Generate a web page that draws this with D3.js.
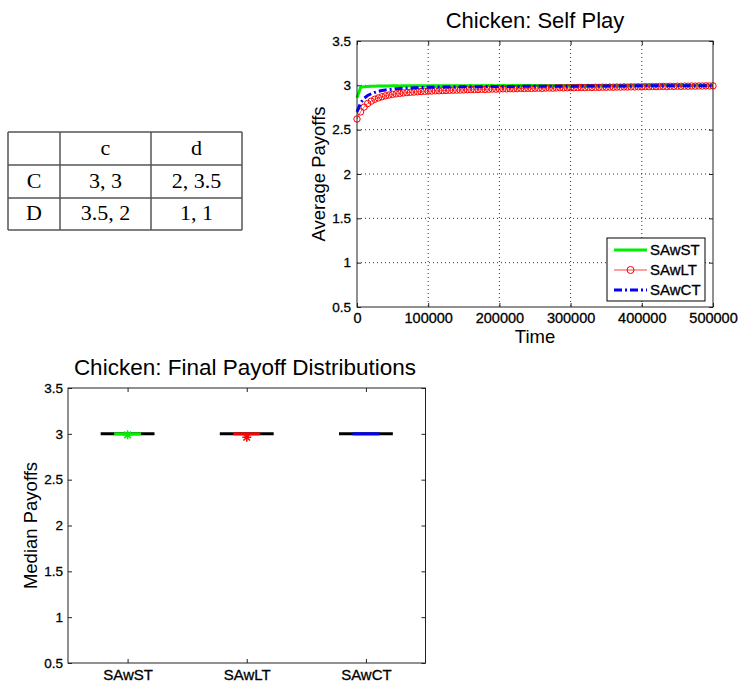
<!DOCTYPE html>
<html>
<head>
<meta charset="utf-8">
<script src="https://cdn.jsdelivr.net/npm/d3@7"></script>
<style>
  body { margin: 0; background: #fff; }
  svg { display: block; font-family: "Liberation Sans", Arial, sans-serif; }
</style>
</head>
<body>
<svg id="fig" width="741" height="686"></svg>
<script>
// payoff table
const tableHead = ["", "c", "d"];
const tableRows = [["C", "3, 3", "2, 3.5"], ["D", "3.5, 2", "1, 1"]];

// self play curves (sampled every 5000 steps)
const time = d3.range(0, 500001, 5000);
const seriesNames = ["SAwST", "SAwLT", "SAwCT"];
const sawst = [
  2.86, 2.975, 2.985, 2.988, 2.99, 2.991, 2.992, 2.992, 2.993, 2.993,
  2.994, 2.994, 2.993, 2.994, 2.995, 2.994, 2.995, 2.995, 2.994, 2.995,
  2.995, 2.996, 2.995, 2.995, 2.996, 2.995, 2.996, 2.996, 2.995, 2.996,
  2.996, 2.996, 2.997, 2.996, 2.996, 2.997, 2.996, 2.997, 2.997, 2.996,
  2.997, 2.997, 2.996, 2.997, 2.997, 2.997, 2.998, 2.997, 2.997, 2.998,
  2.997, 2.998, 2.997, 2.998, 2.998, 2.997, 2.998, 2.998, 2.997, 2.998,
  2.998, 2.998, 2.999, 2.998, 2.998, 2.998, 2.999, 2.998, 2.998, 2.999,
  2.998, 2.999, 2.998, 2.999, 2.999, 2.998, 2.999, 2.999, 2.998, 2.999,
  2.999, 2.999, 2.998, 2.999, 2.999, 2.999, 3.0, 2.999, 2.999, 2.999,
  3.0, 2.999, 2.999, 3.0, 2.999, 2.999, 3.0, 2.999, 3.0, 2.999,
  2.999
];
const sawlt = [
  2.62, 2.70, 2.755, 2.795, 2.822, 2.843, 2.858, 2.871, 2.882, 2.891,
  2.898, 2.904, 2.909, 2.914, 2.918, 2.921, 2.924, 2.927, 2.930, 2.932,
  2.934, 2.936, 2.938, 2.939, 2.941, 2.942, 2.944, 2.945, 2.946, 2.947,
  2.948, 2.950, 2.951, 2.952, 2.953, 2.955, 2.954, 2.956, 2.958, 2.957,
  2.959, 2.961, 2.960, 2.962, 2.961, 2.963, 2.965, 2.964, 2.966, 2.965,
  2.967, 2.968, 2.966, 2.969, 2.970, 2.968, 2.971, 2.973, 2.971, 2.972,
  2.974, 2.973, 2.975, 2.976, 2.974, 2.977, 2.976, 2.978, 2.977, 2.979,
  2.978, 2.980, 2.979, 2.981, 2.980, 2.982, 2.981, 2.983, 2.982, 2.984,
  2.983, 2.985, 2.984, 2.986, 2.985, 2.987, 2.988, 2.986, 2.989, 2.988,
  2.990, 2.989, 2.991, 2.990, 2.992, 2.991, 2.993, 2.992, 2.994, 2.993,
  2.994
];
const sawct = [
  2.70, 2.80, 2.855, 2.885, 2.905, 2.92, 2.932, 2.941, 2.948, 2.953,
  2.958, 2.962, 2.965, 2.967, 2.969, 2.971, 2.973, 2.974, 2.976, 2.977,
  2.978, 2.979, 2.979, 2.98, 2.981, 2.981, 2.982, 2.982, 2.983, 2.983,
  2.984, 2.984, 2.984, 2.985, 2.985, 2.985, 2.986, 2.986, 2.986, 2.987,
  2.987, 2.987, 2.987, 2.988, 2.988, 2.988, 2.988, 2.989, 2.989, 2.989,
  2.989, 2.989, 2.99, 2.99, 2.99, 2.99, 2.99, 2.991, 2.991, 2.991,
  2.991, 2.991, 2.991, 2.992, 2.992, 2.992, 2.992, 2.992, 2.992, 2.992,
  2.993, 2.993, 2.993, 2.993, 2.993, 2.993, 2.993, 2.993, 2.994, 2.994,
  2.994, 2.994, 2.994, 2.994, 2.994, 2.994, 2.994, 2.995, 2.995, 2.995,
  2.995, 2.995, 2.995, 2.995, 2.995, 2.995, 2.995, 2.996, 2.996, 2.996,
  2.996
];
const xTicks = [0, 100000, 200000, 300000, 400000, 500000];
const yTicks = [0.5, 1, 1.5, 2, 2.5, 3, 3.5];

// final payoff distributions (box stats all collapse to 3)
const boxNames = ["SAwST", "SAwLT", "SAwCT"];
const boxMedian = [3, 3, 3];
const boxOutliers = [[2.989], [2.963], []];

const colors = ["#00ee00", "#ff0000", "#0000ff"];
const svg = d3.select("#fig");

// ---------- table ----------
const colEdges = [8, 60, 151, 242];
const rowEdges = [132, 165, 198, 230];
const tbl = svg.append("g").attr("font-family", "'Liberation Serif', 'DejaVu Serif', serif").attr("font-size", 22);
const allRows = [tableHead].concat(tableRows);
allRows.forEach(function (row, r) {
  row.forEach(function (cell, c) {
    tbl.append("text")
      .attr("x", (colEdges[c] + colEdges[c + 1]) / 2)
      .attr("y", rowEdges[r + 1] - 10)
      .attr("text-anchor", "middle")
      .text(cell);
  });
});
rowEdges.forEach(function (y) {
  tbl.append("line").attr("x1", colEdges[0]).attr("x2", colEdges[3])
    .attr("y1", y).attr("y2", y).attr("stroke", "#555").attr("stroke-width", 1.5);
});
colEdges.forEach(function (x) {
  tbl.append("line").attr("x1", x).attr("x2", x)
    .attr("y1", rowEdges[0]).attr("y2", rowEdges[3]).attr("stroke", "#555").attr("stroke-width", 1.5);
});

// ---------- self play ----------
const p1 = {left: 357, right: 713, top: 41, bottom: 307};
const x1 = d3.scaleLinear().domain([0, 500000]).range([p1.left, p1.right]);
const y1 = d3.scaleLinear().domain([0.5, 3.5]).range([p1.bottom, p1.top]);
const g1 = svg.append("g");

// grid
g1.selectAll(".gx").data(xTicks.slice(1, -1)).enter().append("line")
  .attr("x1", d => x1(d)).attr("x2", d => x1(d)).attr("y1", p1.top).attr("y2", p1.bottom)
  .attr("stroke", "#333").attr("stroke-width", 1).attr("stroke-dasharray", "1,3");
g1.selectAll(".gy").data(yTicks.slice(1, -1)).enter().append("line")
  .attr("x1", p1.left).attr("x2", p1.right).attr("y1", d => y1(d)).attr("y2", d => y1(d))
  .attr("stroke", "#333").attr("stroke-width", 1).attr("stroke-dasharray", "1,3");

function styleAxis(sel, fs) {
  sel.select(".domain").remove();
  sel.selectAll(".tick line").attr("stroke", "#222");
  sel.selectAll(".tick text").attr("font-size", fs).attr("fill", "#000")
    .attr("stroke", "#000").attr("stroke-width", 0.3)
    .attr("font-family", "'Liberation Sans', Arial, sans-serif");
}

g1.append("g").attr("transform", `translate(0,${p1.bottom})`)
  .call(d3.axisBottom(x1).tickValues(xTicks).tickFormat(d3.format("d")).tickSizeInner(-4).tickSizeOuter(0).tickPadding(6))
  .call(s => styleAxis(s, 14.5));
g1.append("g").attr("transform", `translate(0,${p1.top})`)
  .call(d3.axisTop(x1).tickValues(xTicks).tickFormat("").tickSizeInner(-4).tickSizeOuter(0))
  .call(s => styleAxis(s, 14.5));
g1.append("g").attr("transform", `translate(${p1.left},0)`)
  .call(d3.axisLeft(y1).tickValues(yTicks).tickFormat(d3.format("~g")).tickSizeInner(-4).tickSizeOuter(0).tickPadding(6))
  .call(s => styleAxis(s, 13.5));
g1.append("g").attr("transform", `translate(${p1.right},0)`)
  .call(d3.axisRight(y1).tickValues(yTicks).tickFormat("").tickSizeInner(-4).tickSizeOuter(0))
  .call(s => styleAxis(s, 13.5));

const line1 = d3.line().x((d, i) => x1(time[i])).y(d => y1(d));
g1.append("path").datum(sawst).attr("d", line1).attr("fill", "none")
  .attr("stroke", colors[0]).attr("stroke-width", 3);
g1.append("path").datum(sawlt).attr("d", line1).attr("fill", "none")
  .attr("stroke", "#ff6060").attr("stroke-width", 1);
g1.selectAll(".mk").data(sawlt).enter().append("circle")
  .attr("cx", (d, i) => x1(time[i])).attr("cy", d => y1(d)).attr("r", 3.2)
  .attr("fill", "none").attr("stroke", colors[1]).attr("stroke-width", 1);
g1.append("path").datum(sawct).attr("d", line1).attr("fill", "none")
  .attr("stroke", colors[2]).attr("stroke-width", 3).attr("stroke-dasharray", "8,3,2,3");

g1.append("rect").attr("x", p1.left).attr("y", p1.top)
  .attr("width", p1.right - p1.left).attr("height", p1.bottom - p1.top)
  .attr("fill", "none").attr("stroke", "#222").attr("stroke-width", 1);

g1.append("text").attr("x", (p1.left + p1.right) / 2).attr("y", 28)
  .attr("text-anchor", "middle").attr("font-size", 22).text("Chicken: Self Play");
g1.append("text").attr("x", (p1.left + p1.right) / 2).attr("y", 343)
  .attr("text-anchor", "middle").attr("font-size", 18.5).text("Time");
g1.append("text").attr("transform", `translate(325,${(p1.top + p1.bottom) / 2}) rotate(-90)`)
  .attr("text-anchor", "middle").attr("font-size", 18.5).text("Average Payoffs");

// legend
const lg = g1.append("g").attr("transform", "translate(607,238)");
lg.append("rect").attr("width", 98).attr("height", 63).attr("fill", "#fff")
  .attr("stroke", "#000").attr("stroke-width", 1);
seriesNames.forEach(function (name, i) {
  const yy = 12 + i * 20;
  const ln = lg.append("line").attr("x1", 7).attr("x2", 40).attr("y1", yy).attr("y2", yy);
  if (i === 0) ln.attr("stroke", colors[0]).attr("stroke-width", 3);
  if (i === 1) {
    ln.attr("stroke", "#ff8080").attr("stroke-width", 1.5);
    lg.append("circle").attr("cx", 23.5).attr("cy", yy).attr("r", 3.5)
      .attr("fill", "none").attr("stroke", colors[1]).attr("stroke-width", 1);
  }
  if (i === 2) ln.attr("stroke", colors[2]).attr("stroke-width", 3).attr("stroke-dasharray", "8,3,2,3");
  lg.append("text").attr("x", 43).attr("y", yy + 5).attr("font-size", 15)
    .attr("stroke", "#000").attr("stroke-width", 0.3).text(name);
});

// ---------- final payoff distributions ----------
const p2 = {left: 68, right: 425.5, top: 388, bottom: 663};
const x2 = d3.scaleLinear().domain([0.5, 3.5]).range([p2.left, p2.right]);
const y2 = d3.scaleLinear().domain([0.5, 3.5]).range([p2.bottom, p2.top]);
const g2 = svg.append("g");
const catPos = [1, 2, 3];

g2.append("g").attr("transform", `translate(0,${p2.bottom})`)
  .call(d3.axisBottom(x2).tickValues(catPos).tickFormat((d, i) => boxNames[i]).tickSizeInner(-4).tickSizeOuter(0).tickPadding(6))
  .call(s => styleAxis(s, 15));
g2.append("g").attr("transform", `translate(0,${p2.top})`)
  .call(d3.axisTop(x2).tickValues(catPos).tickFormat("").tickSizeInner(-4).tickSizeOuter(0))
  .call(s => styleAxis(s, 15));
g2.append("g").attr("transform", `translate(${p2.left},0)`)
  .call(d3.axisLeft(y2).tickValues(yTicks).tickFormat(d3.format("~g")).tickSizeInner(-4).tickSizeOuter(0).tickPadding(5))
  .call(s => styleAxis(s, 13.5));
g2.append("g").attr("transform", `translate(${p2.right},0)`)
  .call(d3.axisRight(y2).tickValues(yTicks).tickFormat("").tickSizeInner(-4).tickSizeOuter(0))
  .call(s => styleAxis(s, 13.5));

g2.append("rect").attr("x", p2.left).attr("y", p2.top)
  .attr("width", p2.right - p2.left).attr("height", p2.bottom - p2.top)
  .attr("fill", "none").attr("stroke", "#222").attr("stroke-width", 1);

boxMedian.forEach(function (m, i) {
  const c = catPos[i];
  g2.append("line").attr("x1", x2(c - 0.226)).attr("x2", x2(c + 0.226))
    .attr("y1", y2(m)).attr("y2", y2(m)).attr("stroke", "#000").attr("stroke-width", 3);
  g2.append("line").attr("x1", x2(c - 0.113)).attr("x2", x2(c + 0.113))
    .attr("y1", y2(m)).attr("y2", y2(m)).attr("stroke", colors[i]).attr("stroke-width", 3);
  boxOutliers[i].forEach(function (o) {
    const cx = x2(c), cy = y2(o), r = 4.5, rd = 3.3;
    const p = d3.path();
    p.moveTo(cx - r, cy); p.lineTo(cx + r, cy);
    p.moveTo(cx, cy - r); p.lineTo(cx, cy + r);
    p.moveTo(cx - rd, cy - rd); p.lineTo(cx + rd, cy + rd);
    p.moveTo(cx - rd, cy + rd); p.lineTo(cx + rd, cy - rd);
    g2.append("path").attr("d", p.toString()).attr("stroke", colors[i]).attr("stroke-width", 1.5).attr("fill", "none");
  });
});

g2.append("text").attr("x", 245).attr("y", 375)
  .attr("text-anchor", "middle").attr("font-size", 22.5).text("Chicken: Final Payoff Distributions");
g2.append("text").attr("transform", `translate(37,${(p2.top + p2.bottom) / 2}) rotate(-90)`)
  .attr("text-anchor", "middle").attr("font-size", 18.5).text("Median Payoffs");
</script>
</body>
</html>
